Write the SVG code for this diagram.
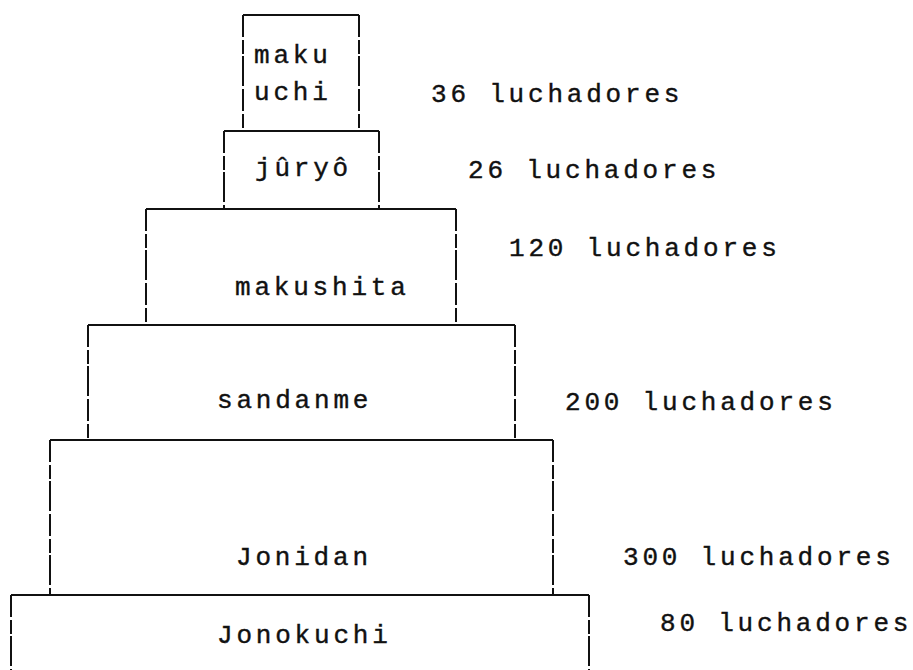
<svg xmlns="http://www.w3.org/2000/svg" width="913" height="670" viewBox="0 0 913 670">
<style>
  .h { stroke: #111; stroke-width: 2; fill: none; }
  .v { stroke: #111; stroke-width: 2; fill: none; stroke-dasharray: 22 3 14 2 30 3; }
  text { font-family: "Liberation Mono", "DejaVu Sans Mono", monospace; font-size: 26px; letter-spacing: 3.8px; fill: #111; stroke: #111; stroke-width: 0.4px; }
</style>
<rect width="913" height="670" fill="#fff"/>
<g id="makuuchi">
  <line class="h" x1="243" y1="15" x2="359" y2="15"/>
  <line class="v" x1="243" y1="15" x2="243" y2="131"/>
  <line class="v" x1="359" y1="15" x2="359" y2="131"/>
  <text x="254" y="63">maku</text>
  <text x="254" y="100">uchi</text>
  <text x="431" y="102">36 luchadores</text>
</g>
<g id="juryo">
  <line class="h" x1="224" y1="131" x2="379" y2="131"/>
  <line class="v" x1="224" y1="131" x2="224" y2="209"/>
  <line class="v" x1="379" y1="131" x2="379" y2="209"/>
  <text x="255" y="176">jûryô</text>
  <text x="468" y="178">26 luchadores</text>
</g>
<g id="makushita">
  <line class="h" x1="146" y1="209" x2="456" y2="209"/>
  <line class="v" x1="146" y1="209" x2="146" y2="325"/>
  <line class="v" x1="456" y1="209" x2="456" y2="325"/>
  <text x="235" y="295">makushita</text>
  <text x="509" y="256">120 luchadores</text>
</g>
<g id="sandanme">
  <line class="h" x1="88" y1="325" x2="515" y2="325"/>
  <line class="v" x1="88" y1="325" x2="88" y2="440"/>
  <line class="v" x1="515" y1="325" x2="515" y2="440"/>
  <text x="217" y="408">sandanme</text>
  <text x="565" y="410">200 luchadores</text>
</g>
<g id="jonidan">
  <line class="h" x1="50" y1="440" x2="553" y2="440"/>
  <line class="v" x1="50" y1="440" x2="50" y2="595"/>
  <line class="v" x1="553" y1="440" x2="553" y2="595"/>
  <text x="236" y="565">Jonidan</text>
  <text x="623" y="565">300 luchadores</text>
</g>
<g id="jonokuchi">
  <line class="h" x1="11" y1="595" x2="589" y2="595"/>
  <line class="v" x1="11" y1="595" x2="11" y2="670"/>
  <line class="v" x1="589" y1="595" x2="589" y2="670"/>
  <text x="217" y="643">Jonokuchi</text>
  <text x="660" y="631">80 luchadores</text>
</g>
<g id="connectors"></g>
</svg>
